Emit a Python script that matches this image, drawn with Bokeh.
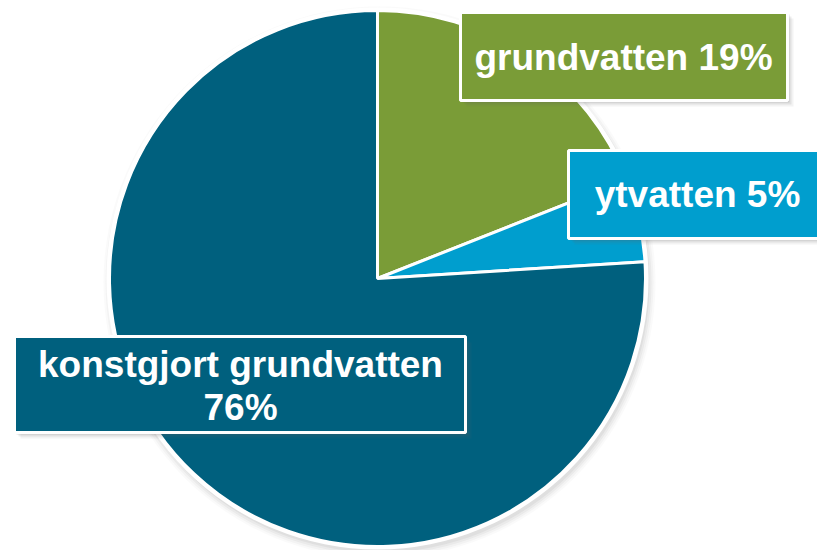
import math
from bokeh.plotting import figure
from bokeh.models import Range1d
from bokeh.core.properties import value
from bokeh.embed import file_html
from bokeh.resources import INLINE

categories = ["grundvatten", "ytvatten", "konstgjort grundvatten"]
shares = [19, 5, 76]
colors = ["#7A9C37", "#009ECE", "#00607E"]

W, H = 817, 550
p = figure(width=W, height=H, output_backend="svg", toolbar_location=None,
           x_range=Range1d(0, W), y_range=Range1d(0, H), min_border=0)
p.axis.visible = False
p.grid.visible = False
p.outline_line_color = None
p.background_fill_color = "white"
p.border_fill_color = "white"

def Y(img_y):
    return H - img_y

cx, cy, r = 377, Y(278), 268

# soft shadow of pie
for i, a in enumerate([0.04, 0.06, 0.08, 0.1]):
    p.circle(x=[cx + 2], y=[cy - 4], radius=r + 8 - i * 2, fill_color="#808080",
             fill_alpha=a, line_color=None)
p.circle(x=[cx], y=[cy], radius=r + 3, fill_color="white", line_color=None)

# wedges, clockwise from top
total = sum(shares)
start = math.pi / 2
starts, ends = [], []
for s in shares:
    end = start - s / total * 2 * math.pi
    starts.append(start)
    ends.append(end)
    start = end
p.wedge(x=cx, y=cy, radius=r, start_angle=starts, end_angle=ends, direction="clock",
        fill_color=colors, line_color="white", line_width=3)

# label boxes (img coords: left, right, top, bottom)
boxes = [(460, 787, 12, 100), (568, 840, 150, 238), (14, 465, 336, 432)]
for (l, rt, t, b), c in zip(boxes, colors):
    for k, a in enumerate([0.08, 0.12, 0.18]):
        off = 6 - k * 2
        p.quad(left=l + off, right=rt + off, top=Y(t + off), bottom=Y(b + off),
               fill_color="#606060", fill_alpha=a, line_color=None)
    p.quad(left=l, right=rt, top=Y(t), bottom=Y(b), fill_color=c,
           line_color="white", line_width=3)

font = value("Liberation Sans")
lab_kw = dict(text_font=font, text_font_style="bold", text_font_size="37px",
              text_color="white", text_align="center", text_baseline="alphabetic")
p.text(x=[623], y=[Y(57)], text=[f"{categories[0]} {shares[0]}%"], **lab_kw)
p.text(x=[697], y=[Y(194)], text=[f"{categories[1]} {shares[1]}%"], **lab_kw)
p.text(x=[240], y=[Y(364)], text=[categories[2]], **lab_kw)
p.text(x=[240], y=[Y(407)], text=[f"{shares[2]}%"], **lab_kw)

open("out.html", "w").write(file_html(p, INLINE))
